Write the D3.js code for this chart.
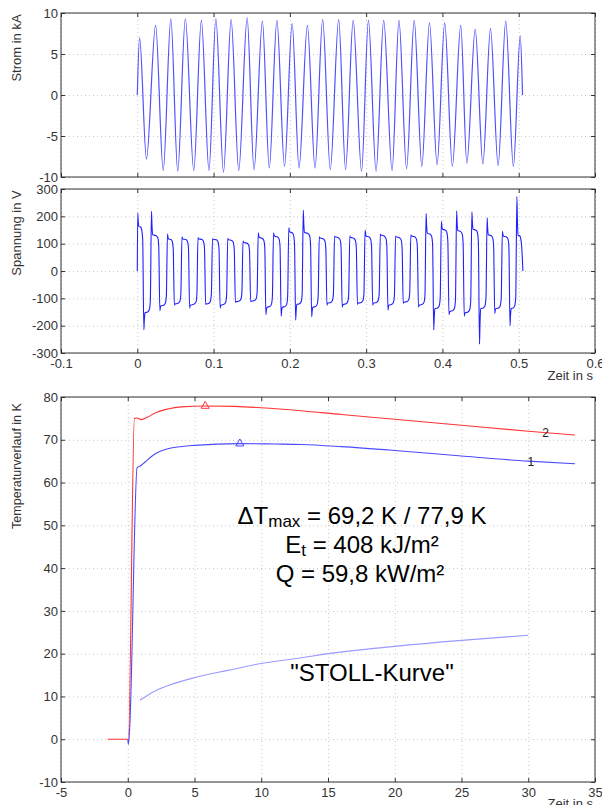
<!DOCTYPE html>
<html>
<head>
<meta charset="utf-8">
<script src="https://cdn.jsdelivr.net/npm/d3@7"></script>
<style>
  html, body { margin: 0; padding: 0; background: #fff; }
  svg { display: block; font-family: "Liberation Sans", Arial, sans-serif; }
</style>
</head>
<body>
<svg id="chart" width="602" height="805"></svg>
<script>
// current (kA): start, alternating peaks / troughs, end
const currentT = [0, 0.003, 0.012, 0.024, 0.034, 0.044, 0.053, 0.063, 0.074, 0.084, 0.094,
  0.103, 0.113, 0.123, 0.133, 0.144, 0.153, 0.164, 0.173, 0.183, 0.193, 0.203, 0.212,
  0.223, 0.233, 0.243, 0.253, 0.264, 0.273, 0.283, 0.294, 0.303, 0.313, 0.323, 0.334,
  0.343, 0.353, 0.363, 0.373, 0.383, 0.393, 0.403, 0.413, 0.424, 0.432, 0.443, 0.453,
  0.463, 0.473, 0.483, 0.493, 0.502, 0.505];
const currentA = [0, 7.0, -7.8, 8.5, -9.2, 9.3, -9.3, 9.3, -9.2, 9.1, -9.2,
  9.3, -9.4, 9.2, -9.2, 9.4, -9.1, 9.0, -8.9, 9.1, -8.7, 8.7, -8.9,
  8.5, -8.9, 9.2, -9.1, 9.2, -9.1, 9.1, -9.3, 9.1, -9.3, 9.1, -9.2,
  9.1, -9.0, 9.1, -8.7, 8.8, -8.5, 8.8, -8.7, 8.5, -8.3, 8.0, -8.4,
  8.1, -8.6, 9.0, -8.7, 7.2, 0];

// voltage (V): switching instants and per half-cycle spike / plateau
const voltEdges = [0.008, 0.018, 0.029, 0.039, 0.048, 0.058, 0.068, 0.079, 0.089, 0.098,
  0.108, 0.118, 0.128, 0.138, 0.148, 0.158, 0.168, 0.178, 0.188, 0.198,
  0.207, 0.217, 0.228, 0.238, 0.248, 0.258, 0.268, 0.278, 0.288, 0.298,
  0.308, 0.318, 0.328, 0.338, 0.348, 0.358, 0.368, 0.378, 0.388, 0.398,
  0.408, 0.418, 0.428, 0.438, 0.448, 0.458, 0.468, 0.478, 0.488, 0.497];
const voltEnd = 0.5055;
const voltSpike = [212, -215, 218, -145, 135, -125, 125, -135, 122, -122,
  118, -135, 120, -115, 110, -112, 140, -160, 140, -165,
  158, -180, 223, -167, 125, -125, 128, -132, 128, -122,
  150, -125, 135, -143, 128, -118, 132, -132, 210, -216,
  182, -160, 220, -165, 217, -268, 195, -155, 145, -200, 272];
const voltLevel = [160, -150, 130, -125, 115, -118, 115, -122, 115, -118,
  114, -122, 112, -110, 102, -108, 120, -130, 125, -130,
  140, -120, 138, -130, 118, -115, 122, -120, 120, -115,
  125, -115, 128, -122, 122, -112, 125, -122, 135, -135,
  150, -145, 145, -150, 150, -135, 130, -135, 125, -135, 128];

// temperature (K) over time (s)
const temp2T = [-1.5, 0, 0.05, 0.5, 0.7, 1.0, 1.5, 2, 3, 4, 5.8, 8, 10, 13, 16, 20, 25, 30, 33.5];
const temp2K = [0, 0, 0, 75, 75.1, 74.7, 75.3, 76.2, 77.2, 77.7, 77.9, 77.8, 77.5, 76.8, 75.9, 74.8, 73.4, 72.0, 71.1];
const temp1T = [0, 0.05, 0.15, 0.7, 1.0, 1.3, 1.9, 3, 5, 8.4, 11, 13, 16, 20, 25, 30, 33.5];
const temp1K = [0, -1.2, 3, 63.5, 64.0, 64.8, 66.4, 67.9, 68.7, 69.1, 69.0, 68.9, 68.4, 67.5, 66.2, 65.0, 64.4];
const stollT = [0.9, 1.5, 2, 3, 5, 7.5, 10, 12.9, 15, 20, 25, 30];
const stollK = [9.1, 10.3, 11.2, 12.5, 14.4, 16.1, 17.7, 19.0, 20.0, 21.7, 23.1, 24.3];
const maxMarks = [{ t: 5.8, k: 77.9, c: "#ff3333" }, { t: 8.4, k: 69.1, c: "#4a4aff" }];

const sigTicksX = [-0.1, 0, 0.1, 0.2, 0.3, 0.4, 0.5, 0.6];
const currentTicks = [-10, -5, 0, 5, 10];
const voltTicks = [-300, -200, -100, 0, 100, 200, 300];
const tempTicksX = [-5, 0, 5, 10, 15, 20, 25, 30, 35];
const tempTicksY = [-10, 0, 10, 20, 30, 40, 50, 60, 70, 80];

const L = 61, R = 595;
const svg = d3.select("#chart");
const fmt = (d) => String(d);

function panel(top, bottom, xs, ys, xTicks, yTicks) {
  const g = svg.append("g");
  // dotted grid
  g.append("g").attr("transform", `translate(0,${bottom})`)
    .call(d3.axisBottom(xs).tickValues(xTicks).tickSize(-(bottom - top)).tickFormat(""))
    .call((a) => a.select(".domain").remove())
    .call((a) => a.selectAll("line").attr("stroke", "#c8c8c8").attr("stroke-dasharray", "1,3"));
  g.append("g").attr("transform", `translate(${L},0)`)
    .call(d3.axisLeft(ys).tickValues(yTicks).tickSize(-(R - L)).tickFormat(""))
    .call((a) => a.select(".domain").remove())
    .call((a) => a.selectAll("line").attr("stroke", "#c8c8c8").attr("stroke-dasharray", "1,3"));
  return g;
}

function frame(g, top, bottom, xs, ys, xTicks, yTicks, showXLabels) {
  const styleAxis = (a) => {
    a.select(".domain").remove();
    a.selectAll("line").attr("stroke", "#333");
    a.selectAll("text").attr("fill", "#333").attr("font-size", 13)
      .attr("font-family", "Liberation Sans, Arial, sans-serif");
  };
  g.append("g").attr("transform", `translate(0,${bottom})`)
    .call(d3.axisBottom(xs).tickValues(xTicks).tickSize(-4).tickPadding(6)
      .tickFormat(showXLabels ? fmt : ""))
    .call(styleAxis);
  g.append("g").attr("transform", `translate(0,${top})`)
    .call(d3.axisTop(xs).tickValues(xTicks).tickSize(-4).tickFormat(""))
    .call(styleAxis);
  g.append("g").attr("transform", `translate(${L},0)`)
    .call(d3.axisLeft(ys).tickValues(yTicks).tickSize(-4).tickPadding(3).tickFormat(fmt))
    .call(styleAxis);
  g.append("g").attr("transform", `translate(${R},0)`)
    .call(d3.axisRight(ys).tickValues(yTicks).tickSize(-4).tickFormat(""))
    .call(styleAxis);
  g.append("rect").attr("x", L).attr("y", top).attr("width", R - L).attr("height", bottom - top)
    .attr("fill", "none").attr("stroke", "#333").attr("stroke-width", 1);
}

function yTitle(text, cy, size) {
  svg.append("text").attr("transform", `translate(21,${cy}) rotate(-90)`)
    .attr("text-anchor", "middle").attr("font-size", size).attr("fill", "#333").text(text);
}

// ---- panel 1: current ----
const x1 = d3.scaleLinear().domain([-0.1, 0.6]).range([L, R]);
const y1 = d3.scaleLinear().domain([-10, 10]).range([177, 13]);
const g1 = panel(13, 177, x1, y1, sigTicksX, currentTicks);
g1.append("path")
  .datum(d3.zip(currentT, currentA))
  .attr("fill", "none").attr("stroke", "#5050ff").attr("stroke-width", 1.2)
  .attr("d", d3.line().x((d) => x1(d[0])).y((d) => y1(d[1])).curve(d3.curveMonotoneX));
frame(g1, 13, 177, x1, y1, sigTicksX, currentTicks, false);
yTitle("Strom in kA", 48, 13);

// ---- panel 2: voltage ----
const x2 = d3.scaleLinear().domain([-0.1, 0.6]).range([L, R]);
const y2 = d3.scaleLinear().domain([-300, 300]).range([353, 189]);
const g2 = panel(189, 353, x2, y2, sigTicksX, voltTicks);
const voltPts = [[0, 0]];
voltSpike.forEach((sp, i) => {
  const t0 = i === 0 ? 0 : voltEdges[i - 1];
  const t1 = i === voltEdges.length ? voltEnd - 0.0008 : voltEdges[i];
  const lv = voltLevel[i];
  voltPts.push([t0 + 0.0006, sp]);
  voltPts.push([t0 + 0.0013, lv + (sp - lv) * 0.4]);
  voltPts.push([t0 + 0.0021, lv * 1.02]);
  voltPts.push([(t0 + t1) / 2 + 0.0006, lv]);
  voltPts.push([t1 - 0.0022, lv * 0.94]);
  voltPts.push([t1 - 0.0009, lv * 0.72]);
});
voltPts.push([voltEnd, 0]);
g2.append("path")
  .datum(voltPts)
  .attr("fill", "none").attr("stroke", "#2020ff").attr("stroke-width", 1.1)
  .attr("d", d3.line().x((d) => x2(d[0])).y((d) => y2(d[1])).curve(d3.curveMonotoneX));
frame(g2, 189, 353, x2, y2, sigTicksX, voltTicks, true);
yTitle("Spannung in V", 233, 13);
svg.append("text").attr("x", 593).attr("y", 380).attr("text-anchor", "end")
  .attr("font-size", 13).attr("fill", "#333").text("Zeit in s");

// ---- panel 3: temperature ----
const x3 = d3.scaleLinear().domain([-5, 35]).range([L, R]);
const y3 = d3.scaleLinear().domain([-10, 80]).range([782, 397]);
const g3 = panel(397, 782, x3, y3, tempTicksX, tempTicksY);
const tline = d3.line().x((d) => x3(d[0])).y((d) => y3(d[1])).curve(d3.curveMonotoneX);
g3.append("path").datum(d3.zip(stollT, stollK))
  .attr("fill", "none").attr("stroke", "#9a9aff").attr("stroke-width", 1.1).attr("d", tline);
g3.append("path").datum(d3.zip(temp1T, temp1K))
  .attr("fill", "none").attr("stroke", "#4a4aff").attr("stroke-width", 1.1).attr("d", tline);
g3.append("path").datum(d3.zip(temp2T, temp2K))
  .attr("fill", "none").attr("stroke", "#ff3333").attr("stroke-width", 1.1).attr("d", tline);
g3.selectAll(".mark").data(maxMarks).join("path")
  .attr("transform", (d) => `translate(${x3(d.t)},${y3(d.k)})`)
  .attr("d", d3.symbol(d3.symbolTriangle, 28))
  .attr("fill", "none").attr("stroke", (d) => d.c).attr("stroke-width", 1);
g3.append("text").attr("x", x3(31.3)).attr("y", y3(71.9) + 5).attr("text-anchor", "middle")
  .attr("font-size", 12).attr("fill", "#222").text("2");
g3.append("text").attr("x", x3(30.2)).attr("y", y3(65.0) + 5).attr("text-anchor", "middle")
  .attr("font-size", 12).attr("fill", "#222").text("1");
frame(g3, 397, 782, x3, y3, tempTicksX, tempTicksY, true);
yTitle("Temperaturverlauf in K", 466, 12.5);
svg.append("text").attr("x", 593).attr("y", 808).attr("text-anchor", "end")
  .attr("font-size", 13).attr("fill", "#333").text("Zeit in s");

// annotations
const ann = svg.append("g").attr("font-size", 24).attr("fill", "#000").attr("text-anchor", "middle");
const a1 = ann.append("text").attr("x", 362).attr("y", 524);
a1.append("tspan").text("\u0394T");
a1.append("tspan").attr("font-size", 17).attr("dy", 3).text("max");
a1.append("tspan").attr("dy", -3).text(" = 69,2 K / 77,9 K");
const a2 = ann.append("text").attr("x", 362).attr("y", 553);
a2.append("tspan").text("E");
a2.append("tspan").attr("font-size", 17).attr("dy", 3).text("t");
a2.append("tspan").attr("dy", -3).text(" = 408 kJ/m\u00b2");
ann.append("text").attr("x", 360).attr("y", 582).text("Q = 59,8 kW/m\u00b2");
ann.append("text").attr("x", 372).attr("y", 681).text("\"STOLL-Kurve\"");
</script>
</body>
</html>
